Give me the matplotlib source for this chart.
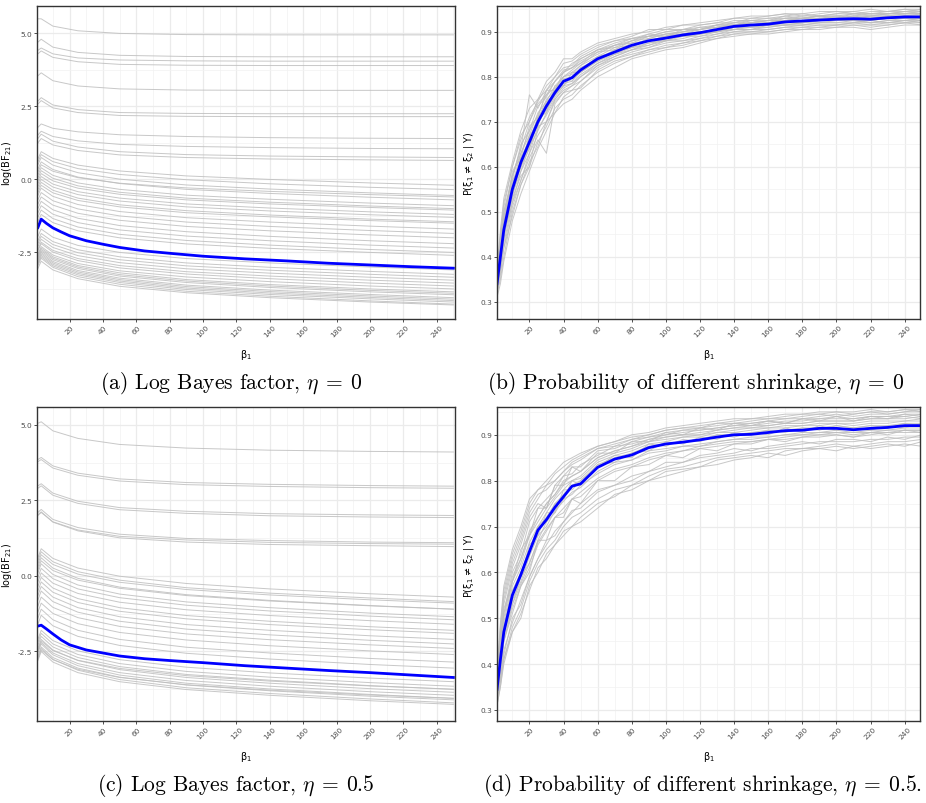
import matplotlib
matplotlib.use("Agg")
import matplotlib.pyplot as plt
from matplotlib.ticker import MultipleLocator, FormatStrFormatter

plt.rcParams["axes.unicode_minus"] = False

# beta_1 grid for the grey Bayes factor curves and for the blue means
beta_bf = [1, 3, 10, 25, 50, 90, 140, 200, 250]
beta_bf_mean = [1, 3, 6, 10, 15, 20, 30, 40, 50, 65, 80, 100, 125, 150, 175, 200, 225, 250]
beta_prob = [1, 3, 5, 10, 15, 20, 25, 30, 35, 40, 45, 50, 60, 70, 80, 90, 100,
             110, 120, 130, 140, 150, 160, 170, 180, 190, 200, 210, 220, 230, 240, 250]

# (a) log Bayes factor, eta = 0
bf_eta0_mean = [-1.65, -1.36, -1.50, -1.66, -1.80, -1.93, -2.10, -2.22, -2.33, -2.45,
                -2.53, -2.63, -2.72, -2.79, -2.87, -2.93, -2.99, -3.04]
bf_eta0_runs = [
    [5.5, 5.5, 5.25, 5.09, 5.0, 4.96, 4.95, 4.95, 4.95],
    [4.7, 4.8, 4.53, 4.35, 4.25, 4.21, 4.2, 4.2, 4.2],
    [4.42, 4.5, 4.3, 4.16, 4.09, 4.06, 4.05, 4.05, 4.05],
    [4.3, 4.4, 4.18, 4.03, 3.94, 3.91, 3.9, 3.9, 3.9],
    [3.55, 3.65, 3.38, 3.2, 3.1, 3.06, 3.05, 3.05, 3.05],
    [2.68, 2.8, 2.55, 2.39, 2.29, 2.26, 2.25, 2.25, 2.25],
    [2.58, 2.7, 2.45, 2.29, 2.19, 2.16, 2.15, 2.15, 2.15],
    [1.78, 1.9, 1.75, 1.63, 1.53, 1.47, 1.43, 1.41, 1.4],
    [1.52, 1.65, 1.47, 1.32, 1.2, 1.13, 1.09, 1.06, 1.05],
    [1.4, 1.55, 1.31, 1.11, 0.95, 0.85, 0.8, 0.77, 0.75],
    [1.25, 1.4, 1.18, 0.99, 0.84, 0.75, 0.7, 0.67, 0.65],
    [0.7, 0.95, 0.72, 0.49, 0.29, 0.12, 0.0, -0.12, -0.2],
    [0.6, 0.85, 0.61, 0.37, 0.17, -0.01, -0.15, -0.27, -0.35],
    [0.5, 0.75, 0.49, 0.23, 0.01, -0.19, -0.33, -0.46, -0.55],
    [0.35, 0.6, 0.34, 0.08, -0.14, -0.34, -0.48, -0.61, -0.7],
    [0.25, 0.5, 0.28, 0.06, -0.13, -0.29, -0.41, -0.52, -0.6],
    [0.15, 0.4, 0.14, -0.12, -0.34, -0.54, -0.68, -0.81, -0.9],
    [0.05, 0.3, 0.04, -0.22, -0.44, -0.64, -0.78, -0.91, -1.0],
    [-0.05, 0.2, -0.05, -0.3, -0.51, -0.7, -0.84, -0.96, -1.05],
    [-0.15, 0.1, -0.16, -0.42, -0.64, -0.84, -0.98, -1.11, -1.2],
    [-0.25, 0.0, -0.26, -0.52, -0.74, -0.94, -1.08, -1.21, -1.3],
    [-0.35, -0.1, -0.37, -0.64, -0.87, -1.07, -1.22, -1.36, -1.45],
    [-0.45, -0.2, -0.46, -0.72, -0.94, -1.14, -1.28, -1.41, -1.5],
    [-0.55, -0.3, -0.58, -0.86, -1.1, -1.31, -1.46, -1.6, -1.7],
    [-0.7, -0.45, -0.73, -1.01, -1.25, -1.46, -1.61, -1.75, -1.85],
    [-0.85, -0.6, -0.88, -1.16, -1.4, -1.61, -1.76, -1.9, -2.0],
    [-1.0, -0.75, -1.04, -1.33, -1.58, -1.79, -1.95, -2.1, -2.2],
    [-1.15, -0.9, -1.19, -1.48, -1.73, -1.94, -2.1, -2.25, -2.35],
    [-1.3, -1.05, -1.34, -1.63, -1.88, -2.09, -2.25, -2.4, -2.5],
    [-1.45, -1.2, -1.48, -1.76, -2.0, -2.21, -2.36, -2.5, -2.6],
    [-1.95, -1.7, -1.98, -2.26, -2.5, -2.71, -2.86, -3.0, -3.1],
    [-2.1, -1.85, -2.13, -2.41, -2.65, -2.86, -3.01, -3.15, -3.25],
    [-2.2, -1.95, -2.23, -2.51, -2.75, -2.96, -3.11, -3.25, -3.35],
    [-2.3, -2.05, -2.33, -2.61, -2.85, -3.06, -3.21, -3.35, -3.45],
    [-2.4, -2.15, -2.43, -2.71, -2.95, -3.16, -3.31, -3.45, -3.55],
    [-2.45, -2.2, -2.49, -2.78, -3.03, -3.24, -3.4, -3.55, -3.65],
    [-2.55, -2.3, -2.59, -2.88, -3.13, -3.34, -3.5, -3.65, -3.75],
    [-2.6, -2.35, -2.65, -2.95, -3.2, -3.43, -3.6, -3.75, -3.85],
    [-2.65, -2.4, -2.7, -3.0, -3.26, -3.48, -3.65, -3.8, -3.9],
    [-2.7, -2.45, -2.75, -3.05, -3.31, -3.53, -3.7, -3.85, -3.95],
    [-2.75, -2.5, -2.81, -3.12, -3.38, -3.62, -3.79, -3.94, -4.05],
    [-2.8, -2.55, -2.86, -3.17, -3.43, -3.67, -3.84, -3.99, -4.1],
    [-2.85, -2.6, -2.91, -3.22, -3.48, -3.72, -3.89, -4.04, -4.15],
    [-2.9, -2.65, -2.96, -3.27, -3.53, -3.77, -3.94, -4.09, -4.2],
    [-2.95, -2.7, -3.01, -3.33, -3.59, -3.83, -4.0, -4.16, -4.27],
    [-3.05, -2.8, -3.1, -3.4, -3.66, -3.88, -4.05, -4.2, -4.3],
]

# (c) log Bayes factor, eta = 0.5
bf_eta05_mean = [-1.66, -1.63, -1.75, -1.92, -2.12, -2.28, -2.45, -2.55, -2.65, -2.74,
                 -2.80, -2.87, -2.97, -3.05, -3.13, -3.20, -3.28, -3.36]
bf_eta05_runs = [
    [5.05, 5.1, 4.8, 4.55, 4.35, 4.23, 4.16, 4.12, 4.1],
    [3.85, 3.92, 3.64, 3.4, 3.21, 3.09, 3.03, 2.99, 2.97],
    [3.78, 3.85, 3.57, 3.33, 3.14, 3.02, 2.96, 2.92, 2.9],
    [2.98, 3.05, 2.74, 2.47, 2.26, 2.14, 2.06, 2.02, 2.0],
    [2.9, 2.98, 2.67, 2.4, 2.19, 2.07, 1.99, 1.95, 1.93],
    [2.1, 2.2, 1.87, 1.6, 1.38, 1.24, 1.17, 1.12, 1.1],
    [2.02, 2.12, 1.78, 1.49, 1.26, 1.12, 1.04, 1.0, 0.97],
    [2.0, 2.1, 1.79, 1.52, 1.31, 1.19, 1.11, 1.07, 1.05],
    [0.6, 0.9, 0.58, 0.26, -0.01, -0.25, -0.43, -0.59, -0.7],
    [0.5, 0.8, 0.47, 0.14, -0.14, -0.39, -0.57, -0.73, -0.85],
    [0.4, 0.7, 0.38, 0.06, -0.21, -0.45, -0.63, -0.79, -0.9],
    [0.3, 0.6, 0.26, -0.08, -0.37, -0.62, -0.81, -0.98, -1.1],
    [0.2, 0.5, 0.18, -0.14, -0.41, -0.65, -0.83, -0.99, -1.1],
    [0.1, 0.4, 0.05, -0.3, -0.6, -0.86, -1.05, -1.23, -1.35],
    [-0.05, 0.25, -0.09, -0.43, -0.72, -0.97, -1.16, -1.33, -1.45],
    [-0.2, 0.1, -0.24, -0.58, -0.87, -1.12, -1.31, -1.48, -1.6],
    [-0.35, -0.05, -0.4, -0.75, -1.05, -1.31, -1.5, -1.68, -1.8],
    [-0.5, -0.2, -0.54, -0.88, -1.17, -1.42, -1.61, -1.78, -1.9],
    [-0.65, -0.35, -0.7, -1.05, -1.35, -1.61, -1.8, -1.98, -2.1],
    [-0.8, -0.5, -0.85, -1.2, -1.5, -1.76, -1.95, -2.13, -2.25],
    [-1.0, -0.7, -1.04, -1.38, -1.67, -1.92, -2.11, -2.28, -2.4],
    [-1.2, -0.9, -1.24, -1.58, -1.87, -2.12, -2.31, -2.48, -2.6],
    [-1.4, -1.1, -1.45, -1.8, -2.1, -2.36, -2.55, -2.73, -2.85],
    [-1.6, -1.3, -1.65, -2.0, -2.3, -2.56, -2.75, -2.93, -3.05],
    [-2.1, -1.8, -2.14, -2.48, -2.77, -3.02, -3.21, -3.38, -3.5],
    [-2.2, -1.9, -2.25, -2.6, -2.9, -3.16, -3.35, -3.53, -3.65],
    [-2.3, -2.0, -2.35, -2.7, -3.0, -3.26, -3.45, -3.63, -3.75],
    [-2.4, -2.1, -2.45, -2.8, -3.1, -3.36, -3.55, -3.73, -3.85],
    [-2.5, -2.2, -2.55, -2.9, -3.2, -3.46, -3.65, -3.83, -3.95],
    [-2.55, -2.25, -2.61, -2.97, -3.28, -3.55, -3.74, -3.92, -4.05],
    [-2.65, -2.35, -2.7, -3.05, -3.35, -3.61, -3.8, -3.98, -4.1],
    [-2.7, -2.4, -2.76, -3.12, -3.43, -3.7, -3.89, -4.07, -4.2],
    [-2.8, -2.5, -2.85, -3.2, -3.5, -3.76, -3.95, -4.13, -4.25],
    [-2.45, -2.15, -2.47, -2.79, -3.06, -3.3, -3.48, -3.64, -3.75],
    [-2.75, -2.45, -2.77, -3.09, -3.36, -3.6, -3.78, -3.94, -4.05],
]

# (b) probability of different shrinkage, eta = 0
prob_eta0_mean = [.34, .40, .46, .55, .61, .655, .70, .735, .765, .79, .798, .815, .84, .855,
                  .87, .88, .886, .893, .898, .905, .912, .915, .917, .922, .924, .926,
                  .928, .929, .928, .931, .933, .933]
prob_eta0_runs = [
    [.36, .45, .52, .60, .66, .71, .745, .78, .80, .83, .835, .85, .87, .88, .89, .905, .905, .915, .915, .92, .93, .93, .935, .94, .935, .94, .945, .94, .945, .945, .95, .945],
    [.32, .35, .40, .50, .56, .60, .655, .69, .73, .75, .76, .78, .81, .83, .845, .855, .865, .87, .88, .89, .895, .90, .90, .905, .91, .91, .915, .915, .91, .915, .92, .92],
    [.35, .42, .49, .56, .63, .67, .72, .745, .78, .80, .81, .825, .855, .86, .88, .885, .895, .90, .905, .91, .915, .92, .925, .925, .93, .93, .935, .93, .935, .935, .94, .94],
    [.33, .38, .44, .54, .59, .645, .68, .72, .755, .78, .785, .805, .83, .85, .86, .875, .88, .885, .895, .90, .905, .91, .91, .915, .92, .92, .92, .925, .92, .925, .93, .925],
    [.34, .41, .45, .57, .60, .67, .69, .745, .76, .795, .79, .82, .835, .86, .865, .885, .88, .895, .895, .91, .905, .915, .92, .92, .925, .93, .925, .93, .93, .935, .93, .935],
    [.36, .44, .50, .58, .64, .70, .74, .76, .79, .81, .83, .84, .86, .875, .885, .89, .90, .905, .91, .915, .925, .925, .93, .93, .935, .935, .94, .94, .94, .94, .945, .945],
    [.33, .37, .42, .51, .57, .62, .66, .63, .74, .765, .77, .79, .82, .84, .85, .86, .87, .875, .885, .89, .90, .90, .905, .91, .91, .915, .915, .92, .915, .92, .92, .925],
    [.34, .40, .48, .55, .62, .66, .71, .74, .77, .79, .80, .815, .845, .855, .875, .88, .89, .895, .90, .905, .915, .915, .92, .925, .925, .925, .93, .935, .93, .93, .935, .935],
    [.34, .39, .46, .54, .60, .65, .695, .73, .76, .78, .80, .81, .835, .855, .865, .875, .885, .89, .895, .90, .91, .91, .915, .92, .92, .925, .925, .925, .925, .93, .93, .93],
    [.37, .46, .53, .61, .68, .73, .75, .79, .81, .84, .84, .855, .875, .885, .895, .90, .91, .915, .92, .925, .93, .935, .935, .94, .94, .945, .945, .945, .95, .945, .95, .95],
    [.31, .34, .39, .48, .54, .59, .64, .68, .72, .74, .75, .77, .80, .82, .84, .85, .86, .865, .875, .885, .89, .895, .895, .90, .905, .905, .91, .91, .905, .91, .915, .915],
    [.35, .43, .47, .59, .62, .69, .71, .77, .77, .81, .82, .83, .86, .865, .88, .895, .89, .905, .905, .915, .915, .925, .92, .93, .93, .935, .93, .94, .935, .94, .94, .94],
    [.33, .37, .45, .52, .59, .63, .69, .70, .75, .77, .78, .80, .825, .845, .86, .865, .88, .88, .89, .895, .905, .905, .91, .915, .915, .92, .92, .92, .925, .92, .925, .925],
    [.35, .41, .47, .56, .61, .665, .705, .75, .77, .80, .805, .825, .845, .865, .87, .885, .895, .895, .905, .91, .915, .92, .92, .925, .93, .93, .93, .93, .935, .935, .935, .94],
    [.33, .40, .44, .55, .60, .64, .70, .725, .76, .785, .79, .81, .835, .85, .865, .87, .885, .89, .895, .90, .91, .91, .915, .915, .92, .925, .925, .93, .925, .93, .93, .93],
    [.35, .42, .50, .57, .65, .68, .735, .755, .79, .81, .82, .835, .855, .87, .88, .89, .895, .90, .91, .91, .92, .925, .925, .93, .93, .935, .935, .935, .94, .94, .94, .945],
    [.36, .44, .51, .60, .67, .70, .75, .77, .80, .82, .825, .845, .865, .88, .885, .895, .905, .905, .915, .92, .92, .93, .93, .935, .94, .935, .94, .945, .94, .945, .945, .95],
    [.32, .36, .42, .49, .56, .61, .645, .70, .72, .755, .77, .775, .815, .835, .845, .86, .865, .875, .88, .885, .895, .895, .90, .905, .905, .91, .91, .915, .915, .915, .92, .915],
    [.34, .41, .47, .53, .62, .64, .71, .72, .78, .78, .81, .81, .845, .85, .87, .88, .885, .895, .90, .90, .91, .915, .915, .92, .92, .925, .93, .925, .93, .93, .935, .93],
    [.35, .42, .48, .58, .63, .68, .715, .76, .775, .80, .815, .83, .85, .87, .875, .89, .89, .90, .905, .915, .915, .92, .925, .925, .93, .935, .93, .935, .935, .94, .94, .94],
    [.33, .39, .45, .53, .58, .60, .685, .715, .75, .775, .785, .80, .83, .845, .86, .87, .88, .89, .89, .90, .905, .905, .915, .915, .915, .92, .925, .925, .92, .925, .925, .93],
    [.35, .43, .49, .58, .64, .76, .73, .77, .79, .815, .82, .84, .86, .87, .885, .89, .90, .905, .905, .915, .92, .92, .925, .935, .93, .935, .935, .94, .94, .94, .945, .94],
    [.33, .38, .43, .52, .57, .63, .67, .70, .745, .765, .78, .79, .825, .84, .855, .865, .875, .88, .885, .895, .90, .905, .905, .91, .915, .915, .915, .92, .92, .92, .925, .92],
    [.34, .40, .47, .56, .61, .66, .70, .74, .765, .795, .80, .82, .84, .86, .87, .88, .89, .895, .90, .905, .91, .915, .92, .92, .925, .93, .93, .93, .93, .935, .935, .935],
]

# (d) probability of different shrinkage, eta = 0.5
prob_eta05_mean = [.345, .41, .47, .55, .595, .645, .692, .715, .742, .765, .788, .793, .829,
                   .847, .856, .872, .88, .884, .889, .895, .90, .901, .905, .909, .91, .914,
                   .914, .911, .914, .916, .92, .92]
prob_eta05_runs = [
    [.37, .47, .55, .63, .68, .74, .77, .78, .80, .82, .84, .85, .87, .88, .89, .90, .91, .915, .915, .925, .925, .93, .935, .935, .94, .945, .94, .945, .95, .945, .95, .955],
    [.32, .36, .41, .48, .52, .58, .62, .65, .67, .70, .72, .73, .76, .78, .79, .81, .825, .83, .84, .85, .855, .86, .865, .87, .87, .875, .88, .875, .88, .885, .885, .89],
    [.35, .44, .50, .59, .63, .69, .72, .75, .77, .80, .81, .82, .85, .865, .875, .89, .895, .90, .905, .91, .915, .92, .92, .925, .925, .93, .93, .93, .935, .935, .94, .935],
    [.34, .39, .45, .52, .57, .61, .66, .69, .72, .73, .76, .765, .80, .82, .83, .845, .855, .865, .87, .875, .88, .885, .89, .89, .895, .90, .90, .895, .90, .905, .905, .905],
    [.345, .42, .46, .56, .59, .66, .68, .73, .73, .78, .78, .80, .83, .855, .85, .88, .875, .89, .885, .90, .895, .905, .90, .915, .905, .92, .91, .915, .91, .92, .915, .925],
    [.36, .45, .53, .61, .66, .72, .75, .74, .79, .81, .83, .83, .865, .87, .885, .895, .90, .91, .91, .915, .92, .925, .93, .925, .935, .935, .94, .935, .94, .94, .945, .945],
    [.33, .37, .43, .49, .54, .59, .63, .67, .68, .71, .73, .75, .78, .79, .81, .82, .84, .84, .855, .86, .87, .865, .875, .88, .885, .88, .89, .89, .885, .895, .89, .90],
    [.35, .41, .48, .57, .61, .665, .70, .73, .76, .78, .80, .805, .84, .855, .865, .88, .885, .895, .895, .905, .905, .91, .915, .915, .92, .92, .925, .92, .925, .925, .93, .93],
    [.34, .40, .46, .54, .58, .635, .68, .70, .735, .755, .775, .785, .82, .84, .845, .865, .87, .875, .88, .885, .89, .895, .895, .90, .905, .905, .91, .905, .91, .91, .915, .915],
    [.38, .49, .57, .65, .70, .76, .78, .80, .82, .84, .85, .86, .875, .885, .90, .905, .915, .92, .925, .93, .935, .935, .94, .945, .945, .95, .95, .95, .955, .95, .955, .955],
    [.31, .35, .40, .47, .50, .57, .60, .64, .66, .68, .70, .72, .75, .765, .79, .80, .82, .825, .83, .845, .85, .855, .85, .865, .87, .87, .875, .87, .875, .88, .875, .885],
    [.36, .43, .52, .58, .65, .68, .74, .74, .79, .79, .83, .82, .86, .86, .885, .885, .905, .90, .915, .91, .925, .92, .93, .925, .935, .93, .94, .93, .94, .935, .945, .94],
    [.33, .38, .45, .51, .57, .60, .67, .67, .72, .72, .76, .75, .80, .80, .83, .835, .855, .85, .87, .865, .88, .88, .89, .885, .895, .895, .90, .895, .905, .90, .91, .905],
    [.35, .42, .49, .58, .62, .68, .71, .74, .765, .79, .80, .81, .845, .86, .87, .885, .89, .895, .90, .905, .91, .915, .915, .92, .92, .925, .925, .925, .93, .93, .93, .935],
    [.34, .39, .47, .53, .59, .62, .67, .71, .73, .76, .77, .79, .815, .835, .845, .86, .865, .875, .875, .885, .89, .89, .895, .90, .90, .905, .905, .905, .905, .91, .91, .91],
    [.36, .44, .51, .60, .64, .71, .74, .76, .78, .81, .815, .835, .855, .875, .88, .89, .90, .905, .91, .915, .92, .92, .925, .93, .93, .935, .935, .935, .94, .94, .94, .945],
    [.36, .46, .54, .62, .67, .73, .76, .79, .80, .82, .835, .845, .87, .875, .89, .895, .905, .91, .915, .92, .925, .925, .93, .935, .935, .94, .945, .94, .945, .945, .95, .95],
    [.32, .37, .42, .50, .53, .59, .63, .66, .69, .71, .735, .74, .775, .79, .80, .82, .83, .84, .85, .855, .86, .87, .87, .875, .88, .885, .885, .885, .89, .89, .895, .895],
    [.34, .42, .47, .55, .60, .64, .70, .71, .75, .76, .80, .79, .835, .84, .86, .865, .885, .88, .895, .89, .905, .90, .91, .905, .915, .91, .92, .915, .92, .915, .925, .92],
    [.35, .43, .51, .58, .63, .68, .72, .75, .77, .795, .81, .82, .85, .865, .875, .885, .895, .90, .90, .91, .915, .915, .92, .925, .925, .93, .93, .93, .935, .935, .935, .94],
    [.34, .39, .45, .53, .575, .62, .665, .695, .72, .74, .76, .775, .805, .825, .835, .85, .86, .865, .875, .88, .885, .885, .89, .895, .90, .90, .905, .90, .905, .905, .91, .91],
    [.31, .35, .41, .47, .51, .56, .61, .63, .66, .69, .70, .71, .74, .77, .78, .80, .81, .82, .83, .835, .845, .85, .86, .855, .865, .87, .865, .875, .87, .875, .88, .875],
    [.37, .48, .56, .64, .69, .75, .78, .79, .815, .83, .845, .855, .875, .885, .895, .90, .91, .915, .92, .925, .93, .935, .935, .94, .945, .945, .95, .945, .95, .95, .955, .95],
    [.35, .41, .47, .56, .60, .65, .70, .72, .75, .77, .79, .80, .835, .85, .86, .875, .88, .885, .89, .90, .90, .905, .91, .91, .915, .915, .92, .915, .92, .92, .925, .925],
]

bf_label = "log(BF$_{21}$)"
prob_label = "P(ξ$_1$ ≠ ξ$_2$ | Y)"
beta_label = "β$_1$"
captions = [
    r"(a) Log Bayes factor, $\eta\:=\:0$",
    r"(b) Probability of different shrinkage, $\eta\:=\:0$",
    r"(c) Log Bayes factor, $\eta\:=\:0.5$",
    r"(d) Probability of different shrinkage, $\eta\:=\:0.5$.",
]

GREY = "#bebebe"
BLUE = "#0000ff"


def style(ax, ylabel, ymajor, yminor, fmt):
    ax.set_facecolor("white")
    for s in ax.spines.values():
        s.set_color("#333333")
        s.set_linewidth(1.0)
    ax.xaxis.set_major_locator(MultipleLocator(20))
    ax.xaxis.set_minor_locator(MultipleLocator(10))
    ax.yaxis.set_major_locator(MultipleLocator(ymajor))
    ax.yaxis.set_minor_locator(MultipleLocator(yminor))
    ax.yaxis.set_major_formatter(FormatStrFormatter(fmt))
    ax.grid(which="major", color="#ebebeb", linewidth=0.9)
    ax.grid(which="minor", color="#f2f2f2", linewidth=0.5)
    ax.set_axisbelow(True)
    ax.tick_params(which="major", length=2, width=0.6, color="#333333",
                   labelsize=5.3, labelcolor="#4d4d4d", pad=1.5)
    ax.tick_params(which="minor", length=0)
    ax.set_xlabel(beta_label, fontsize=7, color="black", labelpad=6)
    ax.set_ylabel(ylabel, fontsize=7, color="black", labelpad=3)


fig = plt.figure(figsize=(9.26, 8.04), dpi=100)
ax_a = fig.add_axes([0.040, 0.602, 0.4514, 0.3897])
ax_b = fig.add_axes([0.5367, 0.602, 0.4568, 0.3897])
ax_c = fig.add_axes([0.040, 0.102, 0.4514, 0.3902])
ax_d = fig.add_axes([0.5367, 0.102, 0.4568, 0.3902])

for ax, runs, mean in [(ax_a, bf_eta0_runs, bf_eta0_mean), (ax_c, bf_eta05_runs, bf_eta05_mean)]:
    for run in runs:
        ax.plot(beta_bf, run, color=GREY, linewidth=0.7, alpha=0.85)
    ax.plot(beta_bf_mean, mean, color=BLUE, linewidth=2.0)
    ax.set_xlim(0.5, 251)
    style(ax, bf_label, 2.5, 1.25, "%.1f")

for ax, runs, mean in [(ax_b, prob_eta0_runs, prob_eta0_mean), (ax_d, prob_eta05_runs, prob_eta05_mean)]:
    for run in runs:
        ax.plot(beta_prob, run, color=GREY, linewidth=0.7, alpha=0.85)
    ax.plot(beta_prob, mean, color=BLUE, linewidth=2.0)
    ax.set_xlim(1, 249)
    style(ax, prob_label, 0.1, 0.05, "%.1f")

ax_a.set_ylim(-4.78, 5.95)
ax_c.set_ylim(-4.8, 5.58)
ax_b.set_ylim(0.262, 0.958)
ax_d.set_ylim(0.276, 0.96)

for ax in (ax_a, ax_b, ax_c, ax_d):
    ax.set_xticks(range(20, 250, 20))
    for lab in ax.get_xticklabels():
        lab.set_rotation(45)
        lab.set_ha("center")

cap_pos = [(0.2495, 0.5236), (0.7516, 0.5236), (0.2549, 0.0236), (0.759, 0.0236)]
for (x, y), txt in zip(cap_pos, captions):
    fig.text(x, y, txt, ha="center", va="center", fontsize=15.5,
             family="cmr10", math_fontfamily="cm")

fig.savefig("out.png", dpi=100)
